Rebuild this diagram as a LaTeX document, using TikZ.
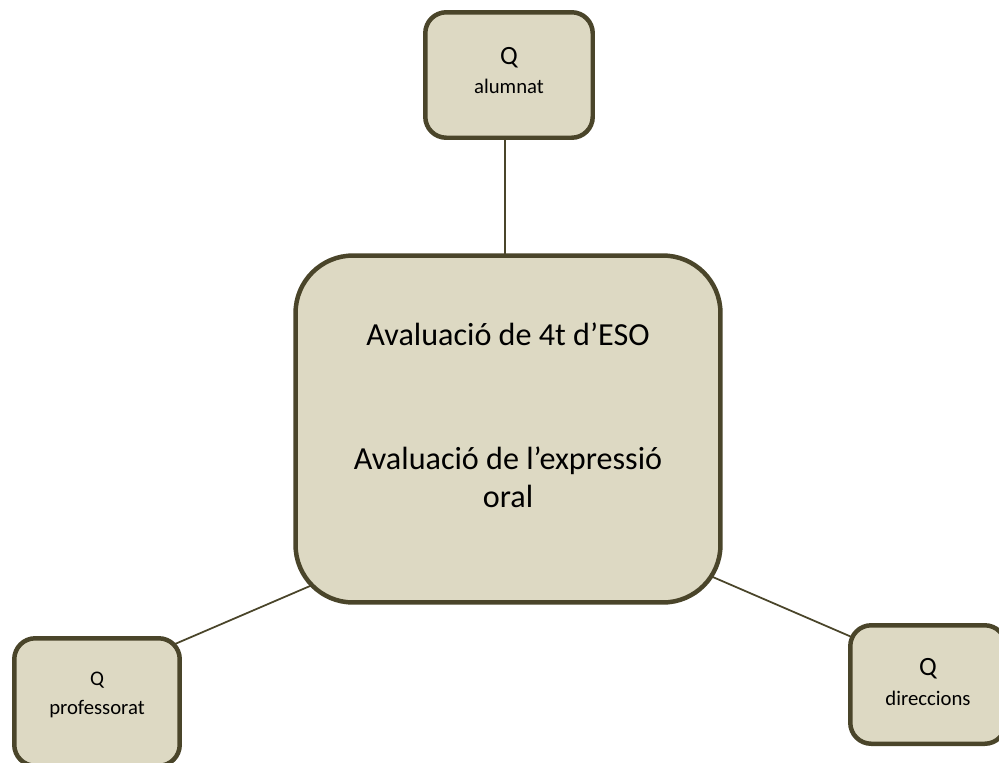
\documentclass[tikz,border=0pt]{standalone}
\usepackage{fontspec}
\setmainfont{Carlito}
\usepackage{tikz}
\usetikzlibrary{backgrounds}
\definecolor{boxfill}{HTML}{DDD9C3}
\definecolor{boxline}{HTML}{4A452A}

\begin{document}
\begin{tikzpicture}[x=0.02cm,y=-0.02cm,
    mainbox/.style={draw=boxline,fill=boxfill,line width=2.55pt,rounded corners=1.15cm,
      minimum width=8.5cm,minimum height=6.94cm,inner sep=0pt,align=center,
      font=\fontsize{18.3}{21.5}\selectfont},
    qbox/.style={draw=boxline,fill=boxfill,line width=2.55pt,rounded corners=0.42cm,
      minimum width=3.35cm,minimum height=2.51cm,inner sep=0pt,align=center,
      font=\fontsize{11.8}{16.8}\selectfont},
    link/.style={draw=boxline,line width=1pt}]
    \useasboundingbox (0,0) rectangle (999,762);
    \clip (0,0) rectangle (999,762);
    \node[mainbox,text depth=16pt] (central) at (508,429)
      {Avaluació de 4t d’ESO\\[49pt]Avaluació de l’expressió\\oral};
    \node[qbox,text depth=5pt] (alumnat) at (509,75)
      {{\fontsize{15}{16.8}\selectfont Q}\\alumnat};
    \node[qbox,minimum width=3.31cm,minimum height=2.55cm,text depth=10pt] (professorat) at (97,702)
      {Q\\professorat};
    \node[qbox,minimum width=3.11cm,minimum height=2.37cm,text depth=3pt] (direccions) at (928,684.5)
      {{\fontsize{15}{16.8}\selectfont Q}\\direccions};
    \begin{scope}[on background layer]
      \draw[link] ([shift={(-4,0)}]alumnat.center) -- ([shift={(-4,0)}]alumnat.center |- central.center);
      \draw[link] ([shift={(43,-43)}]professorat.center)
        -- ([shift={(57,-36)}]central.south west);
      \draw[link] ([shift={(-43,-42)}]central.south east)
        -- ([shift={(-45,-34)}]direccions.center);
    \end{scope}
\end{tikzpicture}
\end{document}
